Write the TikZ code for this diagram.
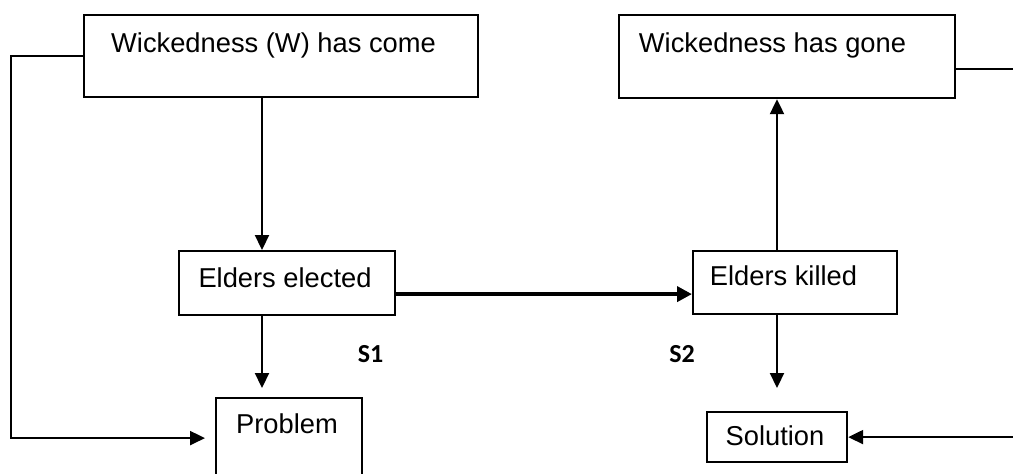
\documentclass[tikz,border=0pt]{standalone}
\usepackage{fontspec}
\setmainfont{Liberation Sans}
\newfontfamily\calibri{Carlito}
\usetikzlibrary{arrows.meta}

\tikzset{
  box/.style={draw=black, line width=2.2pt, rectangle, inner sep=0pt, anchor=north west},
  txt/.style={anchor=base, inner sep=0pt, font=\fontsize{27.3}{32}\selectfont},
  tag/.style={anchor=base, inner sep=0pt, font=\calibri\bfseries\fontsize{26}{30}\selectfont},
  link/.style={line width=2.2pt, -{Triangle[length=15pt, width=14pt]}},
  boldlink/.style={line width=4.5pt, -{Triangle[length=15pt, width=15pt]}},
}

\begin{document}
\begin{tikzpicture}[x=1pt, y=-1pt]
  \useasboundingbox (0,0) rectangle (1013,474);

  % boxes
  \node[box, minimum width=394pt, minimum height=82pt] (come)   at (83,14)  {};
  \node[box, minimum width=336pt, minimum height=83pt] (gone)   at (618,14) {};
  \node[box, minimum width=216pt, minimum height=64pt] (elect)  at (178,250) {};
  \node[box, minimum width=204pt, minimum height=63pt] (killed) at (692,250) {};
  \node[box, minimum width=146pt, minimum height=80pt] (prob)   at (215,397) {};
  \node[box, minimum width=140pt, minimum height=50pt] (sol)    at (706,411) {};

  % box texts
  \node[txt] (comet)   at (273.5,52) {Wickedness (W) has come};
  \node[txt] (gonet)   at (772.5,52) {Wickedness has gone};
  \node[txt] (electt)  at (285,287)  {Elders elected};
  \node[txt] (killedt) at (783.5,285) {Elders killed};
  \node[txt] (probt)   at (287,433)  {Problem};
  \node[txt] (solt)    at (775,445)  {Solution};

  % stage tags
  \node[tag] (s1) at (370.5,362) {S1};
  \node[tag] (s2) at (682,362)   {S2};

  % columns of the vertical connectors
  \coordinate (xl) at (262,0);
  \coordinate (xr) at (777,0);
  \coordinate (tk) at ([yshift=-11pt]elect.east);
  \coordinate (ge) at ([yshift=-12.5pt]gone.east);

  % connectors
  \draw[link] (come.south -| xl) -- (elect.north -| xl);
  \draw[link, shorten >=9pt] (elect.south -| xl) -- (prob.north -| xl);
  \draw[link, shorten >=10pt] (come.west) -- ++(-72,0) |- (prob.west);
  \draw[boldlink] (tk) -- (tk -| killed.west);
  \draw[link] (killed.north -| xr) -- (gone.south -| xr);
  \draw[link, shorten >=23pt] (killed.south -| xr) -- (sol.north -| xr);
  \draw[link] (ge) -- ++(70,0) |- (sol.east);
\end{tikzpicture}
\end{document}
